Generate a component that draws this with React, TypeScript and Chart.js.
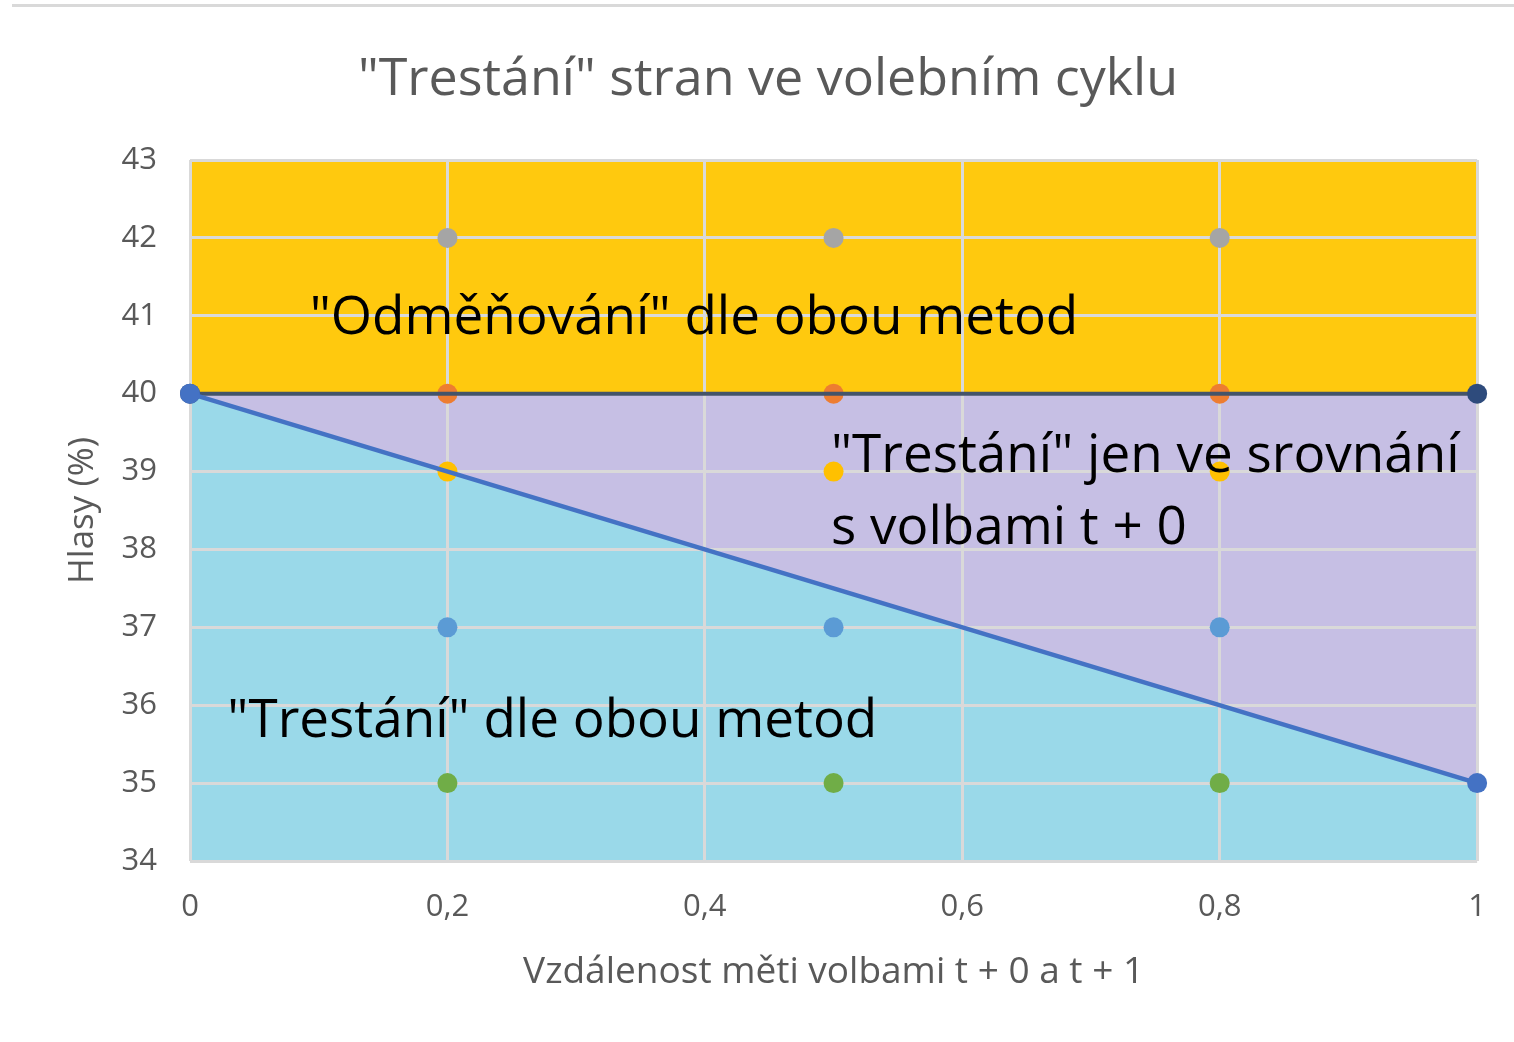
import React, { useEffect, useRef } from "react";
import { Chart, registerables } from "chart.js";

Chart.register(...registerables);

// ---- data ----
const xTickStep = 0.2;
const boundaryX = [0, 1];
const upperLineY = [40, 40];
const diagonalY = [40, 35];
const sampleX = [0.2, 0.5, 0.8];
const greyY = [42, 42, 42];
const orangeY = [40, 40, 40];
const yellowY = [39, 39, 39];
const blueY = [37, 37, 37];
const greenY = [35, 35, 35];
const regionLabels = [
  '"Odměňování" dle obou metod',
  '"Trestání" jen ve srovnání',
  "s volbami t + 0",
  '"Trestání" dle obou metod',
];
// label anchor (left, baseline) in data units
const regionLabelX = [0.093, 0.498, 0.498, 0.029];
const regionLabelY = [40.77, 39.0, 38.07, 35.59];
const titleText = '"Trestání" stran ve volebním cyklu';
const xTitle = "Vzdálenost měti volbami t + 0 a t + 1";
const yTitle = "Hlasy (%)";

const FONT = '"Open Sans", "Noto Sans", sans-serif';
const GREY_TEXT = "#595959";

const pts = (xs: number[], ys: number[]) => xs.map((x, i) => ({ x, y: ys[i] }));

const textPlugin = {
  id: "regionTexts",
  afterDatasetsDraw(chart: any) {
    const { ctx, scales } = chart;
    const x = scales.x;
    const y = scales.y;
    ctx.save();
    ctx.fillStyle = "#000000";
    ctx.font = `53px ${FONT}`;
    ctx.textAlign = "left";
    ctx.textBaseline = "alphabetic";
    regionLabels.forEach((t, i) => {
      ctx.fillText(t, x.getPixelForValue(regionLabelX[i]), y.getPixelForValue(regionLabelY[i]));
    });
    ctx.restore();
  },
  afterDraw(chart: any) {
    const { ctx } = chart;
    ctx.save();
    ctx.fillStyle = GREY_TEXT;
    ctx.font = `52px ${FONT}`;
    ctx.textAlign = "center";
    ctx.textBaseline = "alphabetic";
    ctx.fillText(titleText, 768, 95);
    ctx.restore();
  },
};

export default function App() {
  const ref = useRef<HTMLCanvasElement | null>(null);

  useEffect(() => {
    document.body.style.margin = "0";
    const canvas = ref.current;
    if (!canvas) return;
    const pointDs = (label: string, ys: number[], color: string) => ({
      label,
      data: pts(sampleX, ys),
      showLine: false,
      pointRadius: 10,
      pointBorderWidth: 0,
      pointBackgroundColor: color,
      pointBorderColor: color,
      backgroundColor: color,
      borderColor: color,
      fill: false,
      clip: false,
      order: 5,
    });
    const chart = new Chart(canvas, {
      type: "line",
      data: {
        datasets: [
          {
            label: "hranice 40",
            data: pts(boundaryX, upperLineY),
            borderColor: "#44546A",
            borderWidth: 4,
            pointRadius: 10,
            pointBorderWidth: 0,
            pointBackgroundColor: "#2E4B7C",
            backgroundColor: "#FFC90E",
            fill: "end",
            clip: false,
            order: 1,
          },
          {
            label: "diagonála",
            data: pts(boundaryX, diagonalY),
            borderColor: "#4472C4",
            borderWidth: 4.5,
            pointRadius: 10,
            pointBorderWidth: 0,
            pointBackgroundColor: "#4472C4",
            backgroundColor: "#9AD9E9",
            fill: "start",
            clip: false,
            order: 0,
          },
          {
            label: "střední oblast",
            data: pts(boundaryX, diagonalY),
            borderWidth: 0,
            borderColor: "rgba(0,0,0,0)",
            pointRadius: 0,
            backgroundColor: "#C6BFE4",
            fill: "end",
            order: 10,
          },
          pointDs("42", greyY, "#A5A5A5"),
          pointDs("40", orangeY, "#ED7D31"),
          pointDs("39", yellowY, "#FFC000"),
          pointDs("37", blueY, "#5B9BD5"),
          pointDs("35", greenY, "#70AD47"),
        ],
      },
      options: {
        animation: false,
        responsive: false,
        events: [],
        layout: { padding: { top: 160, right: 33, left: 0, bottom: 0 } },
        plugins: {
          legend: { display: false },
          tooltip: { enabled: false },
          title: { display: false },
          filler: { drawTime: "beforeDraw" },
        } as any,
        scales: {
          x: {
            type: "linear",
            min: 0,
            max: 1,
            afterFit: (s: any) => {
              s.height = 181;
            },
            ticks: {
              stepSize: xTickStep,
              padding: 28,
              color: GREY_TEXT,
              font: { family: FONT, size: 31 },
              callback: (v: any) => String(Number(Number(v).toFixed(1))).replace(".", ","),
            },
            grid: { color: "#D9D9D9", lineWidth: 3, drawTicks: false },
            border: { display: false },
            title: {
              display: true,
              text: xTitle,
              color: GREY_TEXT,
              font: { family: FONT, size: 37 },
              padding: { top: 0, bottom: 47 },
            },
          },
          y: {
            min: 34,
            max: 43,
            afterFit: (s: any) => {
              s.width = 190;
            },
            ticks: {
              stepSize: 1,
              padding: 33,
              color: GREY_TEXT,
              font: { family: FONT, size: 31 },
            },
            grid: { color: "#D9D9D9", lineWidth: 3, drawTicks: false },
            border: { display: false },
            title: {
              display: true,
              text: yTitle,
              color: GREY_TEXT,
              font: { family: FONT, size: 35 },
              padding: { top: 62, bottom: 0 },
            },
          },
        },
      } as any,
      plugins: [textPlugin],
    });
    return () => chart.destroy();
  }, []);

  return (
    <div style={{ position: "relative", width: 1514, height: 1042, background: "#ffffff" }}>
      <div
        style={{
          position: "absolute",
          top: 4,
          left: 12,
          right: 0,
          height: 3,
          background: "#D9D9D9",
        }}
      />
      <canvas ref={ref} width={1514} height={1042} style={{ display: "block" }} />
    </div>
  );
}
